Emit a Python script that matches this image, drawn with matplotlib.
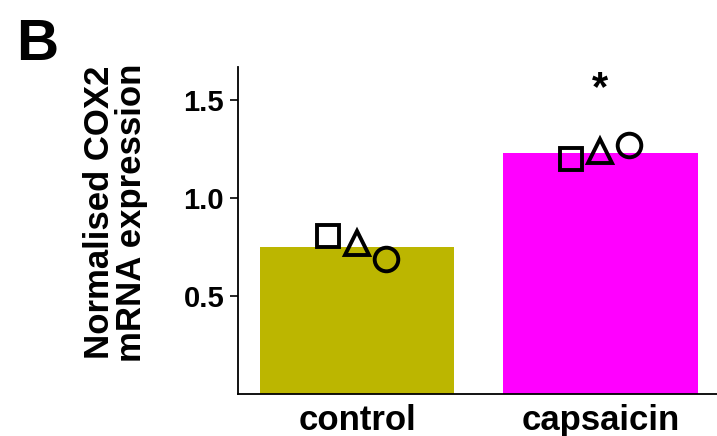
#!/usr/bin/env python3
"""COX2 mRNA expression, control vs capsaicin (panel B)."""

import matplotlib

matplotlib.use("Agg")

import matplotlib.pyplot as plt
import numpy as np

GROUPS = ["control", "capsaicin"]
MEANS = [0.75, 1.23]
BAR_COLORS = ["#bcb600", "#ff00ff"]

# replicate points per group: square, triangle, circle
REP_MARKERS = ["s", "^", "o"]
REP_VALUES = [
    [0.81, 0.77, 0.69],
    [1.20, 1.24, 1.27],
]
SIG_LABELS = ["", "*"]


def main() -> None:
    plt.rcParams["font.family"] = ["Liberation Sans", "DejaVu Sans"]
    plt.rcParams["font.weight"] = "bold"

    fig = plt.figure(figsize=(7.17, 4.36), dpi=100)
    ax = fig.add_axes([0.332, 0.096, 0.668, 0.750])

    x = np.arange(len(GROUPS))
    ax.bar(x, MEANS, width=0.8, color=BAR_COLORS, edgecolor="none", zorder=1)

    offsets = [-0.12, 0.0, 0.12]
    for i, values in enumerate(REP_VALUES):
        for dx, marker, value in zip(offsets, REP_MARKERS, values):
            size = 16 if marker == "s" else 17
            ax.plot(x[i] + dx, value, marker=marker, markersize=size,
                    markerfacecolor="none", markeredgecolor="black",
                    markeredgewidth=2.8, linestyle="none", zorder=3)

    for i, label in enumerate(SIG_LABELS):
        if label:
            ax.text(x[i], 1.56, label, ha="center", va="center",
                    fontsize=30, fontweight="bold")

    ax.set_xlim(-0.49, 1.48)
    ax.set_ylim(0, 1.67)
    ax.set_yticks([0.5, 1.0, 1.5])
    ax.set_yticklabels(["0.5", "1.0", "1.5"], fontsize=21, fontweight="bold")
    ax.set_xticks(x)
    ax.set_xticklabels(GROUPS, fontsize=25, fontweight="bold")
    ax.tick_params(axis="x", length=0, pad=7)
    ax.tick_params(axis="y", length=6, width=1.2, direction="out", pad=4)

    for side in ("top", "right"):
        ax.spines[side].set_visible(False)
    for side in ("left", "bottom"):
        ax.spines[side].set_linewidth(1.3)

    fig.text(0.161, 0.512, "Normalised COX2\nmRNA expression", rotation=90,
             ha="center", va="center", fontsize=25, fontweight="bold",
             linespacing=0.95)
    fig.text(0.022, 0.897, "B", fontsize=42, fontweight="bold",
             ha="left", va="center")

    fig.savefig("out.png", dpi=100)
    plt.close(fig)


if __name__ == "__main__":
    main()
